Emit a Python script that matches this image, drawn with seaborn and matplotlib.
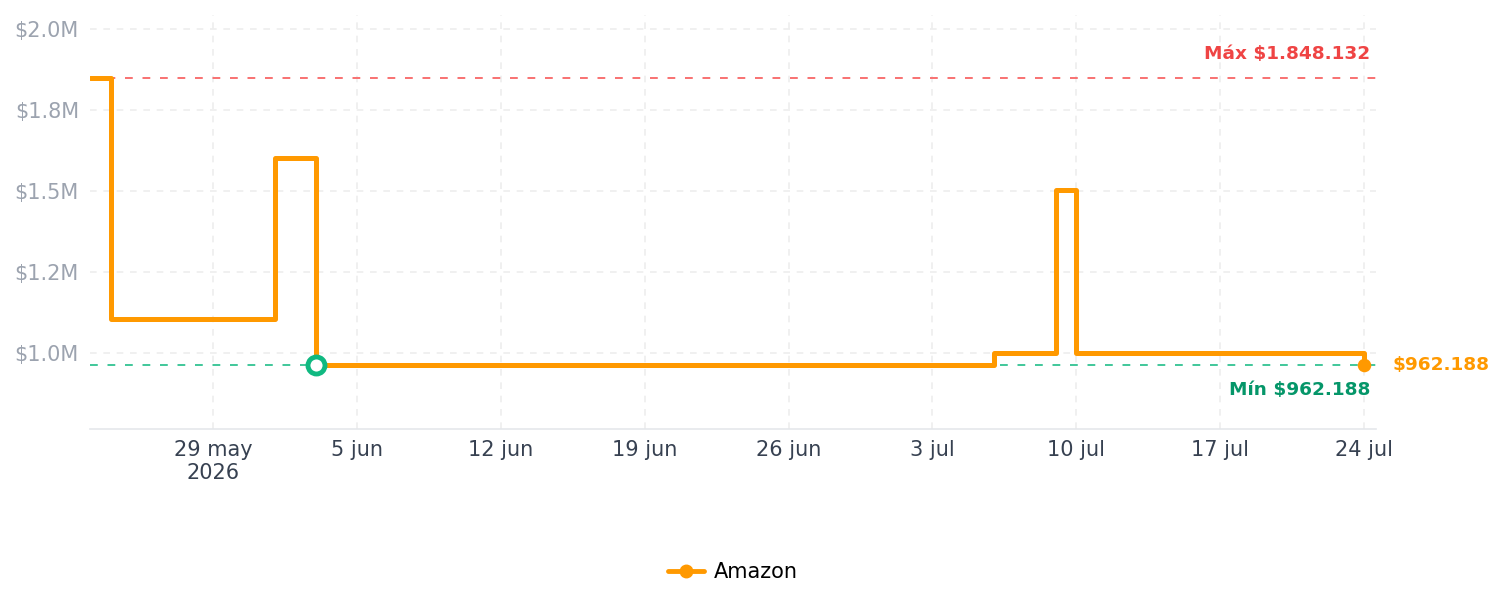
import matplotlib
matplotlib.use("Agg")
import matplotlib.pyplot as plt
import matplotlib.dates as mdates
from matplotlib.lines import Line2D
import seaborn as sns
import pandas as pd
import numpy as np

# ---- data ----
dates = ["2026-05-23", "2026-05-24", "2026-06-01", "2026-06-03",
         "2026-07-06", "2026-07-09", "2026-07-10", "2026-07-24"]
prices = [1848132, 1105000, 1602000, 962188, 999000, 1503000, 999000, 962188]
series_name = "Amazon"
max_price = 1848132
min_price = 962188
min_date = "2026-06-03"
tick_dates = ["2026-05-29", "2026-06-05", "2026-06-12", "2026-06-19",
              "2026-06-26", "2026-07-03", "2026-07-10", "2026-07-17", "2026-07-24"]
tick_labels = ["29 may\n2026", "5 jun", "12 jun", "19 jun", "26 jun",
               "3 jul", "10 jul", "17 jul", "24 jul"]
y_ticks = [1000000, 1250000, 1500000, 1750000, 2000000]
y_labels = ["$1.0M", "$1.2M", "$1.5M", "$1.8M", "$2.0M"]

df = pd.DataFrame({"date": pd.to_datetime(dates), "price": prices})

ORANGE = "#FF9900"
RED_TXT = "#EF4444"
RED_LINE = "#F87171"
GREEN_TXT = "#059669"
GREEN = "#10B981"

sns.set_theme(style="white")
plt.rcParams['font.family'] = ['DejaVu Sans']

fig = plt.figure(figsize=(15.04, 6.07), dpi=100)
ax = fig.add_axes([90/1504, 1-429/607, (1376-90)/1504, (429-15)/607])

sns.lineplot(data=df, x="date", y="price", ax=ax, color=ORANGE, lw=3.6,
             drawstyle="steps-post", legend=False, zorder=4)

# reference lines
ax.axhline(max_price, color=RED_LINE, lw=1.4, ls=(0, (4, 5)), zorder=2)
ax.axhline(min_price, color=GREEN, lw=1.4, ls=(0, (4, 5)), alpha=0.8, zorder=2)

# markers
ax.scatter(pd.to_datetime([min_date]), [min_price], s=150, facecolor="white",
           edgecolor=GREEN, linewidth=3.5, zorder=6)
ax.scatter(df["date"].iloc[-1:], df["price"].iloc[-1:], s=95, color=ORANGE, zorder=6,
           linewidth=0)

# labels
ytr = ax.get_yaxis_transform()
ax.annotate(f"Máx ${max_price:,}".replace(",", "."), xy=(1.0, max_price), xycoords=ytr,
            xytext=(-6, 15), textcoords="offset pixels", ha="right", va="bottom",
            color=RED_TXT, fontsize=13.3, fontweight="bold")
ax.annotate(f"Mín ${min_price:,}".replace(",", "."), xy=(1.0, min_price), xycoords=ytr,
            xytext=(-6, -16), textcoords="offset pixels", ha="right", va="top",
            color=GREEN_TXT, fontsize=13.3, fontweight="bold")
ax.annotate(f"${prices[-1]:,}".replace(",", "."), xy=(df["date"].iloc[-1], prices[-1]),
            xytext=(28, 0), textcoords="offset pixels", ha="left", va="center",
            color=ORANGE, fontsize=13.3, fontweight="bold", annotation_clip=False)

# axes
ax.set_xlim(pd.Timestamp("2026-05-23"), pd.Timestamp("2026-07-24 14:00"))
ax.set_ylim(765000, 2043000)
ax.set_xticks(pd.to_datetime(tick_dates))
ax.set_xticklabels(tick_labels, linespacing=1.2)
ax.set_yticks(y_ticks)
ax.set_yticklabels(y_labels)
ax.tick_params(axis="x", colors="#374151", labelsize=15, length=0, pad=8)
ax.tick_params(axis="y", colors="#9CA3AF", labelsize=15, length=0, pad=8)
ax.set_xlabel("")
ax.set_ylabel("")
ax.grid(True, color="#EEEEEE", ls=(0, (4, 4)), lw=1.2)
for s in ["top", "right", "left"]:
    ax.spines[s].set_visible(False)
ax.spines["bottom"].set_color("#E5E7EB")
ax.spines["bottom"].set_linewidth(1.2)

handle = Line2D([], [], color=ORANGE, lw=3.5, marker="o", markersize=9)
fig.legend([handle], [series_name], loc="center",
           bbox_to_anchor=((90 + 1376) / 2 / 1504, 1-572/607),
           frameon=False, fontsize=15, handlelength=1.7, handletextpad=0.5,
           labelcolor="black")

fig.savefig("out.png", dpi=100, facecolor="white")
